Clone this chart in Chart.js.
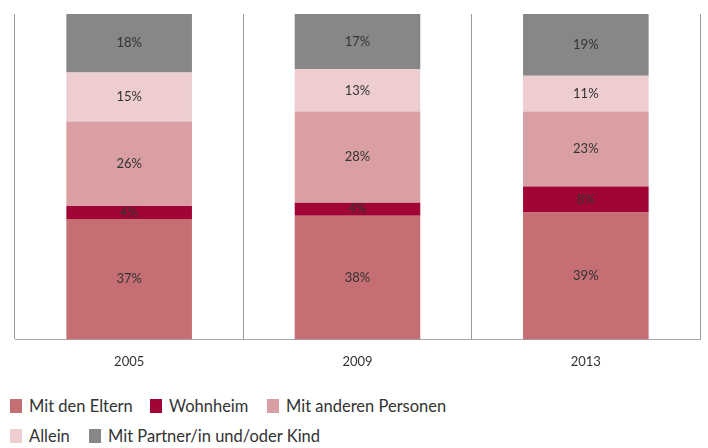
<!DOCTYPE html>
<html>
<head>
<meta charset="utf-8">
<script src="https://cdn.jsdelivr.net/npm/chart.js@4"></script>
<style>
  html, body { margin: 0; padding: 0; background: #fff; }
  body { width: 708px; height: 448px; overflow: hidden; font-family: Lato, sans-serif; position: relative; }
  .wrap { position: relative; width: 708px; height: 393px; }
  .item { position: absolute; display: flex; align-items: center; font-size: 16.5px;
          color: #333; line-height: 22px; white-space: nowrap; }
  .box { width: 12px; height: 14px; margin-right: 7px; }
</style>
</head>
<body>
<div class="wrap"><canvas id="c"></canvas></div>
<div id="legend"></div>
<script>
'use strict';

// ── Data ─────────────────────────────────────────────────────────
const years    = ['2005', '2009', '2013'];
const eltern   = [37, 38, 39];
const wohnheim = [4, 4, 8];
const andere   = [26, 28, 23];
const allein   = [15, 13, 11];
const partner  = [18, 17, 19];

const seriesNames  = ['Mit den Eltern', 'Wohnheim', 'Mit anderen Personen', 'Allein', 'Mit Partner/in und/oder Kind'];
const seriesValues = [eltern, wohnheim, andere, allein, partner];
const seriesColors = ['#C56E73', '#A00535', '#DA9FA2', '#EDCDCF', '#878787'];

// legend placement (two rows, like the original)
const legendSpots = [[10, 395], [150, 395], [267, 395], [10, 425], [89, 425]];

// ── Value labels in the segments ─────────────────────────────────
const segLabels = {
  id: 'segLabels',
  afterDatasetsDraw(chart) {
    const ctx = chart.ctx;
    ctx.save();
    ctx.font = '13px Lato, sans-serif';
    ctx.fillStyle = '#333';
    ctx.textAlign = 'center';
    ctx.textBaseline = 'middle';
    chart.data.datasets.forEach((ds, i) => {
      chart.getDatasetMeta(i).data.forEach((bar, j) => {
        const y = (bar.y + bar.base) / 2;
        ctx.fillText(ds.data[j] + '%', bar.x, y);
      });
    });
    ctx.restore();
  }
};

const chart = new Chart(document.getElementById('c'), {
  type: 'bar',
  data: {
    labels: years,
    datasets: seriesNames.map((n, i) => ({
      label: n,
      data: seriesValues[i],
      backgroundColor: seriesColors[i],
      borderWidth: 0,
      categoryPercentage: 0.55,
      barPercentage: 1
    }))
  },
  options: {
    responsive: true,
    maintainAspectRatio: false,
    animation: false,
    layout: { padding: { left: 15, right: 8, top: 14, bottom: 8 } },
    plugins: { legend: { display: false }, tooltip: { enabled: false } },
    scales: {
      x: {
        stacked: true,
        grid: { offset: true, color: '#9a9a9a', lineWidth: 1, drawTicks: false },
        border: { color: '#a8a8a8' },
        ticks: { color: '#333', font: { family: 'Lato, sans-serif', size: 13 }, padding: 15 }
      },
      y: {
        stacked: true,
        display: false,
        min: 0,
        max: 100
      }
    }
  },
  plugins: [segLabels]
});

// ── HTML legend ──────────────────────────────────────────────────
const legend = document.getElementById('legend');
seriesNames.forEach((n, i) => {
  const it = document.createElement('div');
  it.className = 'item';
  it.style.left = legendSpots[i][0] + 'px';
  it.style.top = legendSpots[i][1] + 'px';
  const b = document.createElement('span');
  b.className = 'box';
  b.style.background = seriesColors[i];
  it.appendChild(b);
  it.appendChild(document.createTextNode(n));
  legend.appendChild(it);
});
</script>
</body>
</html>
